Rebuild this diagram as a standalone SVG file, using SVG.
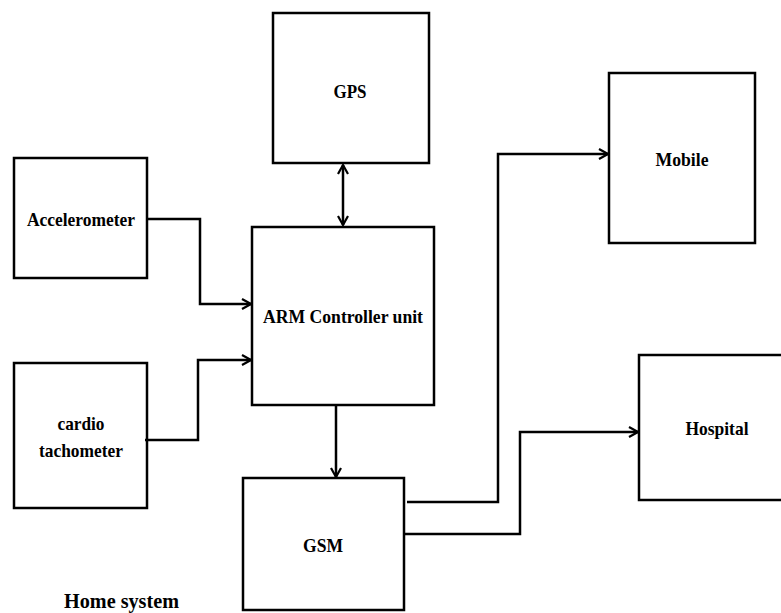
<svg xmlns="http://www.w3.org/2000/svg" width="781" height="613" viewBox="0 0 781 613">
<defs>
<style>
.box{fill:#fff;stroke:#000;stroke-width:2.5}
.lbl{font-family:"Liberation Serif","Times New Roman",serif;font-weight:bold;font-size:19px;fill:#000;text-anchor:middle}
.con{fill:none;stroke:#000;stroke-width:2.5}
</style>
<marker id="arr" viewBox="0 0 12 12" refX="11" refY="6" markerWidth="12" markerHeight="12" markerUnits="userSpaceOnUse" orient="auto-start-reverse">
<path d="M2,1 L11,6 L2,11" fill="none" stroke="#000" stroke-width="2.2"/>
</marker>
</defs>
<rect width="781" height="613" fill="#fff"/>
<g id="gps"><rect class="box" x="273" y="13" width="156" height="150"/><text class="lbl" x="350" y="98" textLength="33" lengthAdjust="spacingAndGlyphs">GPS</text></g>
<g id="accelerometer"><rect class="box" x="14" y="158" width="133" height="120"/><text class="lbl" x="81" y="226" textLength="108" lengthAdjust="spacingAndGlyphs">Accelerometer</text></g>
<g id="arm"><rect class="box" x="252" y="227" width="182" height="178"/><text class="lbl" x="343" y="323" textLength="160" lengthAdjust="spacingAndGlyphs">ARM Controller unit</text></g>
<g id="cardio"><rect class="box" x="14" y="363" width="133" height="145"/><text class="lbl" x="81" y="430" textLength="47" lengthAdjust="spacingAndGlyphs">cardio</text><text class="lbl" x="81" y="457" textLength="84" lengthAdjust="spacingAndGlyphs">tachometer</text></g>
<g id="gsm"><rect class="box" x="243" y="478" width="161" height="132"/><text class="lbl" x="323" y="552" textLength="40" lengthAdjust="spacingAndGlyphs">GSM</text></g>
<g id="mobile"><rect class="box" x="609" y="73" width="146" height="170"/><text class="lbl" x="682" y="166" textLength="53" lengthAdjust="spacingAndGlyphs">Mobile</text></g>
<g id="hospital"><rect class="box" x="639" y="355" width="145" height="145"/><text class="lbl" x="717" y="435" textLength="63" lengthAdjust="spacingAndGlyphs">Hospital</text></g>
<g id="home"><text class="lbl" x="64" y="608" style="text-anchor:start;font-size:21px" textLength="115" lengthAdjust="spacingAndGlyphs">Home system</text></g>
<g id="connectors">
<path class="con" d="M147,219 H200 V304 H251" marker-end="url(#arr)"/>
<path class="con" d="M145,440 H198 V360 H251" marker-end="url(#arr)"/>
<path class="con" d="M343,165 V225" marker-start="url(#arr)" marker-end="url(#arr)"/>
<path class="con" d="M336,405 V477" marker-end="url(#arr)"/>
<path class="con" d="M407,502 H498 V154 H608" marker-end="url(#arr)"/>
<path class="con" d="M404,534 H520 V432 H638" marker-end="url(#arr)"/>
</g>
</svg>
